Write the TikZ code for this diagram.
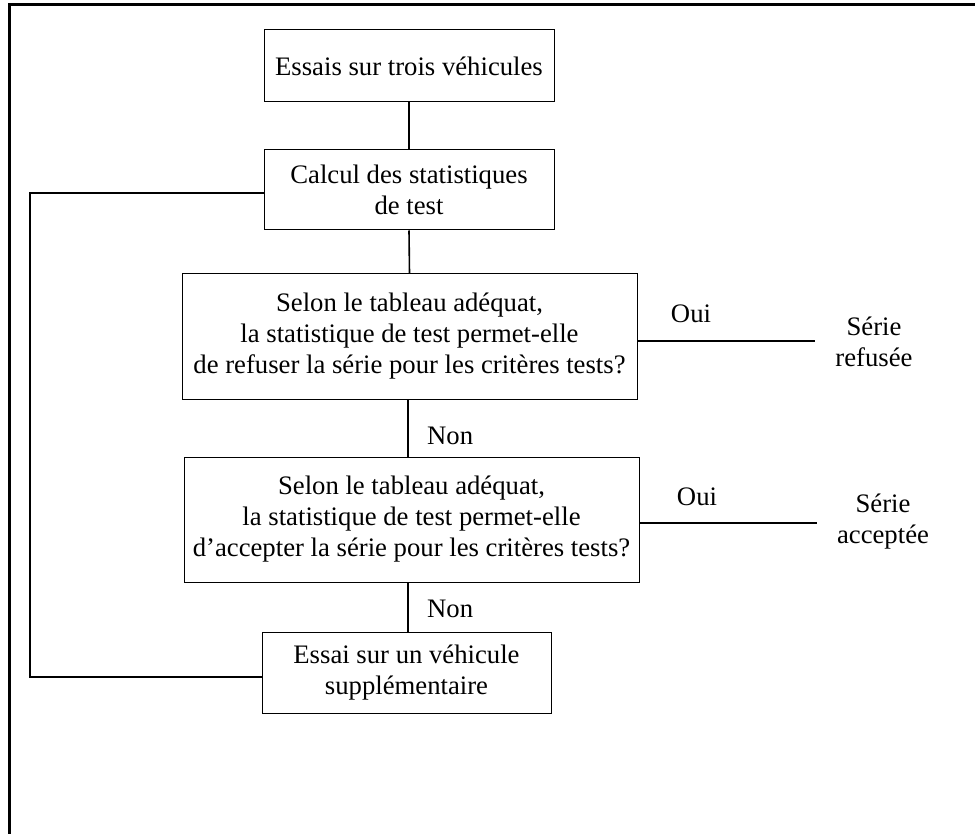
\documentclass[tikz,border=0pt]{standalone}
\usepackage{fontspec}
\setmainfont{Liberation Serif}
\begin{document}
\begin{tikzpicture}[x=1pt,y=-1pt,
  txt/.style={font=\fontsize{26.7}{31}\selectfont},
  box/.style={txt, draw, line width=1pt, rectangle, inner sep=0pt, align=center},
  lbl/.style={txt, inner sep=0pt, align=center},
  conn/.style={line width=1.6pt},
  frame/.style={line width=3pt}]
\useasboundingbox (0,0) rectangle (975,834);
% outer frame (cut at right and bottom)
\draw[frame] (9,834) -- (9,5) -- (975,5);
% boxes
\node[box, minimum width=290pt, minimum height=72pt] (b1) at (409,66) {Essais sur trois véhicules};
\node[box, minimum width=290pt, minimum height=80pt] (b2) at (409,190) {Calcul des statistiques\\de test};
\node[box, minimum width=455pt, minimum height=125pt] (b3) at (409.5,336.5) {Selon le tableau adéquat,\\la statistique de test permet-elle\\de refuser la série pour les critères tests?};
\node[box, minimum width=455pt, minimum height=125pt] (b4) at (411.5,519.5) {Selon le tableau adéquat,\\la statistique de test permet-elle\\d’accepter la série pour les critères tests?};
\node[box, minimum width=289pt, minimum height=81pt] (b5) at (406.5,672.5) {Essai sur un véhicule\\supplémentaire};
% results
\node[lbl] (r1) at (874,342) {Série\\refusée};
\node[lbl] (r2) at (883,522) {Série\\acceptée};
\coordinate (e1) at (815,341);
\coordinate (e2) at (817,523);
% vertical connectors
\coordinate (v1) at (409,0);
\coordinate (v3) at (408,0);
\draw[conn] (b1.south) -- (b2.north);
\draw[conn] (b2.south) -- (b3.north);
\draw[conn] (v3 |- b3.south) -- (v3 |- b4.north);
\draw[conn] (v3 |- b4.south) -- (v3 |- b5.north);
% yes branches
\draw[conn] (e1 -| b3.east) -- (e1);
\draw[conn] (e2 -| b4.east) -- (e2);
\node[txt, anchor=base, inner sep=0pt] (oui1) at (691,323) {Oui};
\node[txt, anchor=base, inner sep=0pt] (oui2) at (697,505) {Oui};
\node[txt, anchor=base west, inner sep=0pt] (non1) at (427,444) {Non};
\node[txt, anchor=base west, inner sep=0pt] (non2) at (427,617) {Non};
% loop back
\coordinate (lb) at (30,677);
\coordinate (lt) at (30,193);
\draw[conn] (lb -| b5.west) -- (lb) -- (lt) -- (lt -| b2.west);
\end{tikzpicture}
\end{document}
